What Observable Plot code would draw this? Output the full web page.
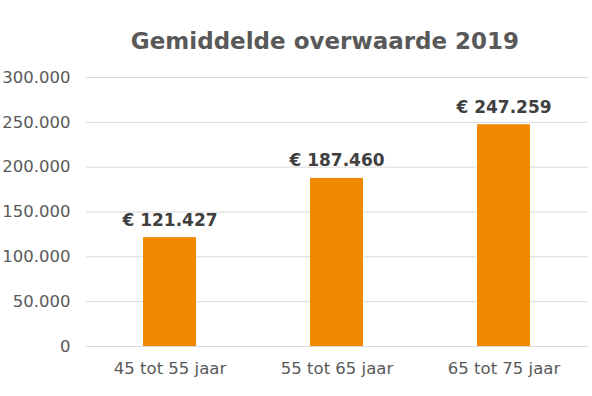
<!DOCTYPE html>
<html>
<head>
<meta charset="utf-8">
<script src="https://cdn.jsdelivr.net/npm/d3@7"></script>
<script src="https://cdn.jsdelivr.net/npm/@observablehq/plot@0.6"></script>
<style>
  html, body { margin: 0; padding: 0; background: #fff; }
  #wrap { position: relative; width: 592px; height: 396px; }
  #title { position: absolute; left: 0; width: 650px; top: 30px; text-align: center; line-height: 23px;
    font-family: "DejaVu Sans", Verdana, sans-serif; font-weight: bold; font-size: 23px; color: #595959; }
</style>
</head>
<body>
<div id="wrap">
  <div id="chart"></div>
  <div id="title">Gemiddelde overwaarde 2019</div>
</div>
<script>
const categories = ["45 tot 55 jaar", "55 tot 65 jaar", "65 tot 75 jaar"];
const values = [121427, 187460, 247259];
const yTicks = [0, 50000, 100000, 150000, 200000, 250000, 300000];

const data = categories.map((c, i) => ({category: c, value: values[i]}));
const fmt = v => d3.format(",")(v).replace(/,/g, ".");

const chart = Plot.plot({
  width: 592,
  height: 396,
  marginTop: 77,
  marginBottom: 50,
  marginLeft: 86,
  marginRight: 4,
  style: {fontFamily: "'DejaVu Sans', Verdana, sans-serif", fontSize: "16.5px", color: "#595959", background: "white"},
  x: {domain: categories, paddingInner: 0.68, paddingOuter: 0.34, label: null},
  y: {domain: [0, 300000], label: null},
  marks: [
    Plot.ruleY(yTicks, {stroke: "#d9d9d9", strokeWidth: 1}),
    Plot.barY(data, {x: "category", y: "value", fill: "#f08800"}),
    Plot.text(data, {x: "category", y: "value", text: d => "€ " + fmt(d.value), lineAnchor: "bottom", dy: -12, fontWeight: "bold", fontSize: 17, fill: "#404040"}),
    Plot.axisY(yTicks, {tickSize: 0, tickPadding: 16, tickFormat: fmt, fontSize: 16.5, fill: "#595959", label: null}),
    Plot.axisX({tickSize: 0, tickPadding: 16, fontSize: 16.5, fill: "#595959", label: null})
  ]
});
document.getElementById("chart").appendChild(chart);
</script>
</body>
</html>
